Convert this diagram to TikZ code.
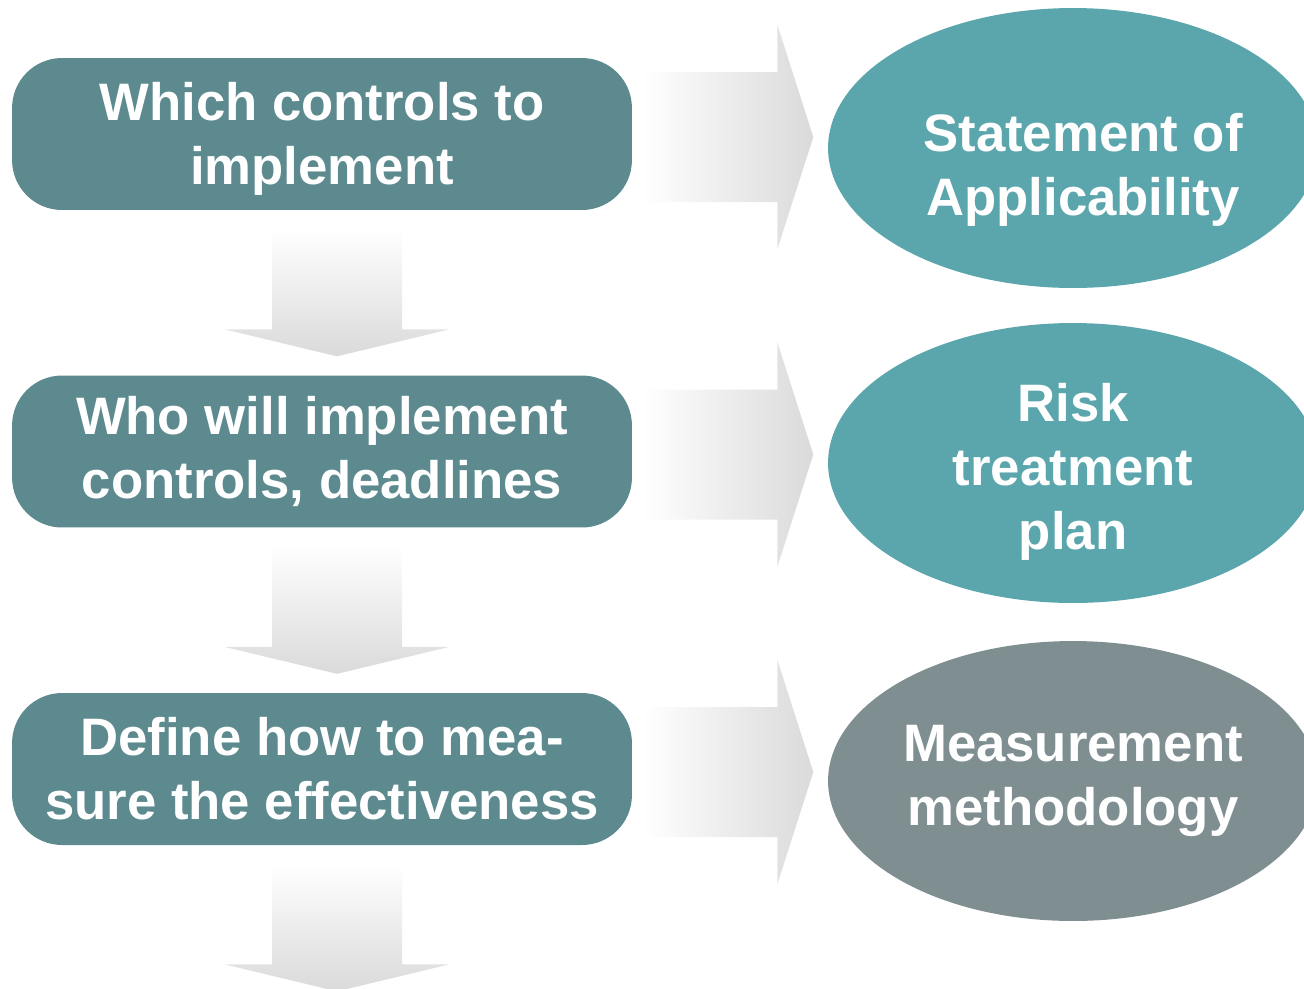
\documentclass[tikz,border=0pt]{standalone}
\usepackage{fontspec}
\setmainfont{Liberation Sans}
\usetikzlibrary{shapes.geometric,calc}
\definecolor{boxteal}{HTML}{5C8A8F}
\definecolor{ovalteal}{HTML}{5BA6AD}
\definecolor{ovalgrey}{HTML}{7F8F91}
\definecolor{arrowgrey}{HTML}{DADADA}
\tikzset{
  stepbox/.style={rectangle, rounded corners=1cm, fill=boxteal, minimum width=12.4cm, minimum height=3.04cm, inner sep=0pt},
  outcome/.style={ellipse, minimum width=9.8cm, minimum height=5.6cm, inner sep=0pt},
  boxtext/.style={align=center, text=white, inner sep=0pt, font=\fontsize{30}{36.5}\selectfont\bfseries},
  rightfill/.style={left color=white, right color=arrowgrey},
  downfill/.style={top color=white, bottom color=arrowgrey},
}
\begin{document}
\begin{tikzpicture}[x=0.02cm,y=-0.02cm]
			\useasboundingbox (0,0) rectangle (1304,988);
			\clip (0,0) rectangle (1304,988);
			
			\node[stepbox, label={[boxtext, yshift=-0.1cm]center:Which controls to\\implement}] (which) at (322,134) {};
			\node[stepbox, label={[boxtext]center:Who will implement\\controls, deadlines}] (who) at (322,451.5) {};
			\node[stepbox, label={[boxtext]center:Define how to mea-\\sure the effectiveness}] (define) at (322,769) {};
			
			\node[outcome, fill=ovalteal, label={[boxtext, xshift=0.2cm, yshift=-0.44cm]center:Statement of\\Applicability}] (soa) at (1073,148) {};
			\node[outcome, fill=ovalteal, label={[boxtext, yshift=-0.18cm]center:Risk\\treatment\\plan}] (rtp) at (1073,463) {};
			\node[outcome, fill=ovalgrey, label={[boxtext]center:Measurement\\methodology}] (method) at (1073,781) {};
			
			\foreach \a in {which, who, define}
				\shade[rightfill] ($(\a.east)+(10,-62)$) -- ++(135,0) -- ++(0,-47.5) -- ++(36,112.5) -- ++(-36,112.5) -- ++(0,-47.5) -- ++(-135,0) -- cycle;
			\foreach \a in {which, who, define}
				\shade[downfill] ($(\a.south)+(-50,18)$) -- ++(130,0) -- ++(0,101) -- ++(47.5,0) -- ++(-112.5,27) -- ++(-112.5,-27) -- ++(47.5,0) -- cycle;
			
	\end{tikzpicture}
\end{document}
